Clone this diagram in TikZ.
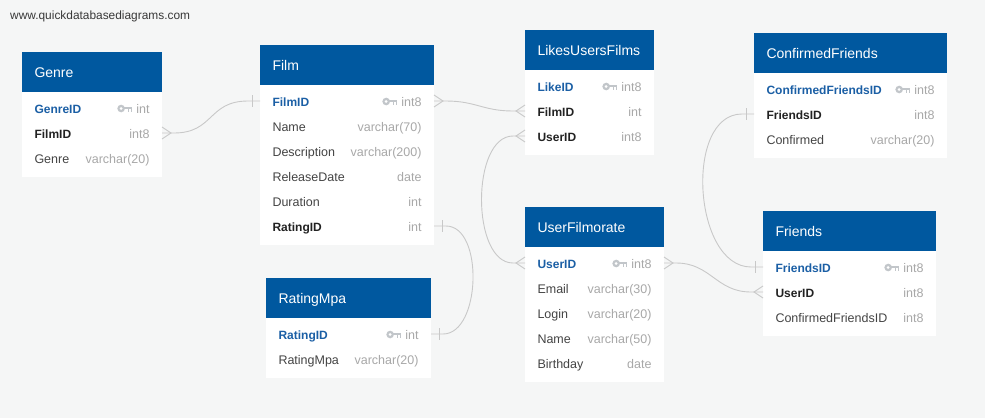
\documentclass[tikz,border=0pt]{standalone}
\usepackage{fontspec}
\setmainfont{Liberation Sans}
\usetikzlibrary{positioning}
\definecolor{hdblue}{HTML}{00589F}
\definecolor{keyblue}{HTML}{1B5FA5}
\definecolor{fkgray}{HTML}{222222}
\definecolor{txtgray}{HTML}{444444}
\definecolor{typegray}{HTML}{A8A8A8}
\definecolor{keygray}{HTML}{C2C6CA}
\definecolor{linkgray}{HTML}{C8C8C8}
\definecolor{canvas}{HTML}{F5F6F6}
\newcommand{\keyicon}{\tikz[x=1pt,y=1pt,baseline=0pt]{%
    \fill[keygray] (4,4.5) circle (3.8);
    \fill[white] (4,4.5) circle (1.5);
    \fill[keygray] (7,3.6) rectangle (15,5.8);
    \fill[keygray] (10.8,1.4) rectangle (12.3,3.8);
    \fill[keygray] (13.4,1.4) rectangle (15,3.8);}}
\newcommand{\typegap}{\hskip 0pt plus 1filll}
\newcommand{\semib}{\fontsize{12}{14}\selectfont\bfseries}
\newcommand{\pk}[2]{\textcolor{keyblue}{\semib #1}\typegap\textcolor{typegray}{\keyicon\ #2}}
\newcommand{\fk}[2]{\textcolor{fkgray}{\semib #1}\typegap\textcolor{typegray}{#2}}
\newcommand{\fld}[2]{#1\typegap\textcolor{typegray}{#2}}
\newcommand{\manyE}[1]{\draw[link] ([yshift=6pt]#1.east) -- ([xshift=9pt]#1.east) -- ([yshift=-6pt]#1.east);}
\newcommand{\manyW}[1]{\draw[link] ([yshift=6pt]#1.west) -- ([xshift=-9pt]#1.west) -- ([yshift=-6pt]#1.west);}
\newcommand{\oneE}[1]{\draw[link] ([xshift=8pt,yshift=6pt]#1.east) -- ([xshift=8pt,yshift=-6pt]#1.east);}
\newcommand{\oneW}[1]{\draw[link] ([xshift=-8pt,yshift=6pt]#1.west) -- ([xshift=-8pt,yshift=-6pt]#1.west);}
\tikzset{%
    tblhead/.style={anchor=north west,fill=hdblue,text=white,font=\fontsize{14}{16}\selectfont,text width=#1,minimum height=40pt,inner xsep=12.5pt,inner ysep=0pt,outer sep=0pt,text height=11pt,text depth=1pt},
    row/.style={text width=#1,minimum height=25pt,inner xsep=12.5pt,inner ysep=0pt,outer sep=0pt,text=txtgray,font=\fontsize{12.5}{14}\selectfont,text height=11pt,text depth=1pt},
    link/.style={draw=linkgray,line width=0.9pt},
  }
\begin{document}
\begin{tikzpicture}[x=1pt,y=-1pt]
    \fill[canvas] (0,0) rectangle (985,418);
    \useasboundingbox (0,0) rectangle (985,418);
    \node (site) [anchor=west,text=fkgray!90,font=\fontsize{11.9}{14}\selectfont,inner sep=0pt] at (10,16) {www.quickdatabasediagrams.com};
    %
    \node (genre) [tblhead=115pt] at (22,52) {Genre};
    \fill[white] (genre.south west) rectangle ++(140,84.5);
    \node (genre-genreid) [row=115pt, below=3.5pt of genre] {\pk{GenreID}{int}};
    \node (genre-filmid) [row=115pt, below=0pt of genre-genreid] {\fk{FilmID}{int8}};
    \node (genre-genre) [row=115pt, below=0pt of genre-filmid] {\fld{Genre}{varchar(20)}};
    %
    \node (film) [tblhead=149pt] at (260,45) {Film};
    \fill[white] (film.south west) rectangle ++(174,159.5);
    \node (film-filmid) [row=149pt, below=3.5pt of film] {\pk{FilmID}{int8}};
    \node (film-name) [row=149pt, below=0pt of film-filmid] {\fld{Name}{varchar(70)}};
    \node (film-descr) [row=149pt, below=0pt of film-name] {\fld{Description}{varchar(200)}};
    \node (film-release) [row=149pt, below=0pt of film-descr] {\fld{ReleaseDate}{date}};
    \node (film-duration) [row=149pt, below=0pt of film-release] {\fld{Duration}{int}};
    \node (film-ratingid) [row=149pt, below=0pt of film-duration] {\fk{RatingID}{int}};
    %
    \node (likes) [tblhead=104pt] at (525,30) {LikesUsersFilms};
    \fill[white] (likes.south west) rectangle ++(129,84.5);
    \node (likes-likeid) [row=104pt, below=3.5pt of likes] {\pk{LikeID}{int8}};
    \node (likes-filmid) [row=104pt, below=0pt of likes-likeid] {\fk{FilmID}{int}};
    \node (likes-userid) [row=104pt, below=0pt of likes-filmid] {\fk{UserID}{int8}};
    %
    \node (user) [tblhead=114pt] at (525,207) {UserFilmorate};
    \fill[white] (user.south west) rectangle ++(139,134.5);
    \node (user-userid) [row=114pt, below=3.5pt of user] {\pk{UserID}{int8}};
    \node (user-email) [row=114pt, below=0pt of user-userid] {\fld{Email}{varchar(30)}};
    \node (user-login) [row=114pt, below=0pt of user-email] {\fld{Login}{varchar(20)}};
    \node (user-name) [row=114pt, below=0pt of user-login] {\fld{Name}{varchar(50)}};
    \node (user-birthday) [row=114pt, below=0pt of user-name] {\fld{Birthday}{date}};
    %
    \node (rating) [tblhead=140pt] at (266,278) {RatingMpa};
    \fill[white] (rating.south west) rectangle ++(165,59.5);
    \node (rating-ratingid) [row=140pt, below=3.5pt of rating] {\pk{RatingID}{int}};
    \node (rating-mpa) [row=140pt, below=0pt of rating-ratingid] {\fld{RatingMpa}{varchar(20)}};
    %
    \node (cf) [tblhead=168pt] at (754,33) {ConfirmedFriends};
    \fill[white] (cf.south west) rectangle ++(193,84.5);
    \node (cf-cfid) [row=168pt, below=3.5pt of cf] {\pk{ConfirmedFriendsID}{int8}};
    \node (cf-friendsid) [row=168pt, below=0pt of cf-cfid] {\fk{FriendsID}{int8}};
    \node (cf-confirmed) [row=168pt, below=0pt of cf-friendsid] {\fld{Confirmed}{varchar(20)}};
    %
    \node (friends) [tblhead=148pt] at (763,211) {Friends};
    \fill[white] (friends.south west) rectangle ++(173,84.5);
    \node (friends-friendsid) [row=148pt, below=3.5pt of friends] {\pk{FriendsID}{int8}};
    \node (friends-userid) [row=148pt, below=0pt of friends-friendsid] {\fk{UserID}{int8}};
    \node (friends-cfid) [row=148pt, below=0pt of friends-userid] {\fld{ConfirmedFriendsID}{int8}};
    %
    \draw[link] (genre-filmid.east) -- ++(12,0) .. controls +(40,0) and +(-40,0) .. ([xshift=-12pt]film-filmid.west) -- (film-filmid.west);
    \manyE{genre-filmid} \oneW{film-filmid}
    \draw[link] (film-filmid.east) -- ++(12,0) .. controls +(30,0) and +(-30,0) .. ([xshift=-12pt]likes-filmid.west) -- (likes-filmid.west);
    \manyE{film-filmid} \manyW{likes-filmid}
    \draw[link] (likes-userid.west) -- ++(-12,0) .. controls +(-42,0) and +(-42,0) .. ([xshift=-12pt]user-userid.west) -- (user-userid.west);
    \manyW{likes-userid} \manyW{user-userid}
    \draw[link] (film-ratingid.east) -- ++(12,0) .. controls +(38,0) and +(38,0) .. ([xshift=12pt]rating-ratingid.east) -- (rating-ratingid.east);
    \oneE{film-ratingid} \oneE{rating-ratingid}
    \draw[link] (user-userid.east) -- ++(12,0) .. controls +(35,0) and +(-35,0) .. ([xshift=-12pt]friends-userid.west) -- (friends-userid.west);
    \manyE{user-userid} \manyW{friends-userid}
    \draw[link] (cf-friendsid.west) -- ++(-12,0) .. controls +(-58,0) and +(-58,0) .. ([xshift=-12pt]friends-friendsid.west) -- (friends-friendsid.west);
    \oneW{cf-friendsid} \oneW{friends-friendsid}
  \end{tikzpicture}
\end{document}
